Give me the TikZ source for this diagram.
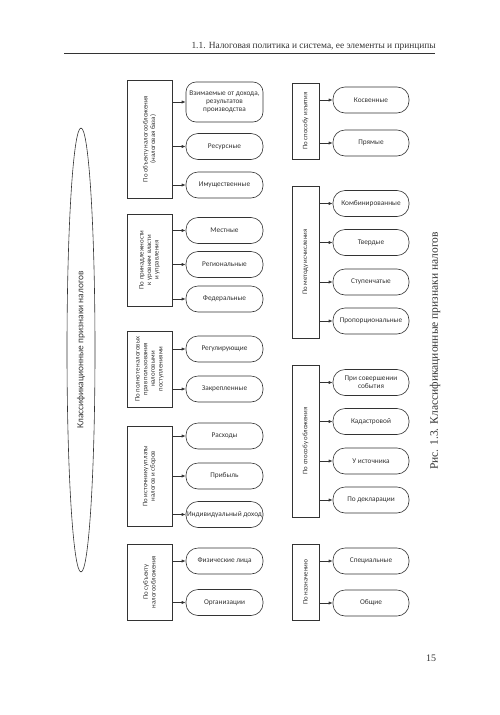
\documentclass[tikz,border=0pt]{standalone}
\usepackage{fontspec}
\setmainfont{Liberation Serif}
\newfontfamily\carl{Carlito}
\usetikzlibrary{shapes.geometric,arrows.meta}
\definecolor{ink}{HTML}{333333}
\tikzset{
  catbox/.style={draw=ink, line width=0.6pt, rectangle, inner sep=0pt},
  cattext/.style={rotate=90, align=center, font=\carl\fontsize{6.8}{7.6}\selectfont, text=ink, inner sep=0pt},
  kid/.style={draw=ink, line width=0.6pt, rectangle, rounded corners=12pt, inner sep=1pt, align=center, font=\carl\fontsize{7.3}{8.2}\selectfont, text=ink},
  kidL/.style={kid, minimum width=77pt, minimum height=26pt},
  kidR/.style={kid, minimum width=76pt, minimum height=26pt},
  arr/.style={draw=ink, line width=0.7pt, -{Latex[length=4pt,width=3.2pt]}}
}
\begin{document}
\begin{tikzpicture}[x=1pt,y=-1pt]
\useasboundingbox (0,0) rectangle (500,715);
% header
\node[anchor=east, font=\fontsize{9.4}{11}\selectfont, text=ink, inner sep=0pt] (head) at (436,46) {1.1. Налоговая политика и система, ее элементы и принципы};
\coordinate (hl) at (64,53);
\coordinate (hr) at (435,53);
\draw[ink, line width=0.8pt] (hl) -- (hr);
% root ellipse
\node[ellipse, draw=ink, line width=0.6pt, minimum width=28pt, minimum height=444pt, inner sep=0pt] (root) at (81,350) {};
\node[rotate=90, font=\carl\fontsize{9.4}{10}\selectfont, text=ink] at (root.center) {Классификационные признаки налогов};
% left column boxes
\node[catbox, minimum width=45pt, minimum height=118pt] (g1) at (149.5,139) {};
\node[cattext] at (g1.center) {По объекту налогообложения\\(налоговая база)};
\node[catbox, minimum width=45pt, minimum height=92pt] (g2) at (149.5,260) {};
\node[cattext] at (g2.center) {По принадлежности\\к уровням власти\\и управления};
\node[catbox, minimum width=45pt, minimum height=76pt] (g3) at (149.5,369) {};
\node[cattext] at (g3.center) {По полноте налоговых\\прав пользования\\налоговыми\\поступлениями};
\node[catbox, minimum width=45pt, minimum height=100pt] (g4) at (149.5,476) {};
\node[cattext] at (g4.center) {По источнику уплаты\\налогов и сборов};
\node[catbox, minimum width=45pt, minimum height=76pt] (g5) at (149.5,582) {};
\node[cattext] at (g5.center) {По субъекту\\налогообложения};
% left children
\node[kid, minimum width=77pt, minimum height=40pt, rounded corners=10pt] (c11) at (224.5,102) {Взимаемые от дохода,\\результатов\\производства};
\node[kidL] (c12) at (224.5,146.5) {Ресурсные};
\node[kidL] (c13) at (224.5,185) {Имущественные};
\node[kidL] (c21) at (224.5,230.5) {Местные};
\node[kidL] (c22) at (224.5,264.5) {Региональные};
\node[kidL] (c23) at (224.5,299) {Федеральные};
\node[kidL] (c31) at (224.5,349) {Регулирующие};
\node[kidL] (c32) at (224.5,389) {Закрепленные};
\node[kidL] (c41) at (224.5,436) {Расходы};
\node[kidL] (c42) at (224.5,476) {Прибыль};
\node[kidL] (c43) at (224.5,514.5) {Индивидуальный доход};
\node[kidL] (c51) at (224.5,561) {Физические лица};
\node[kidL] (c52) at (224.5,602.5) {Организации};
\foreach \g/\c in {g1/c11,g1/c12,g1/c13,g2/c21,g2/c22,g2/c23,g3/c31,g3/c32,g4/c41,g4/c42,g4/c43,g5/c51,g5/c52}
  \draw[arr] (\g.east |- \c.west) -- (\c.west);
% right column boxes
\node[catbox, minimum width=27pt, minimum height=76pt] (gA) at (305.5,121) {};
\node[cattext] at (gA.center) {По способу изъятия};
\node[catbox, minimum width=27pt, minimum height=152pt] (gB) at (305.5,262) {};
\node[cattext] at (gB.center) {По методу исчисления};
\node[catbox, minimum width=27pt, minimum height=152pt] (gC) at (305.5,441) {};
\node[cattext] at (gC.center) {По способу обложения};
\node[catbox, minimum width=27pt, minimum height=76pt] (gD) at (305.5,582) {};
\node[cattext] at (gD.center) {По назначению};
% right children
\node[kidR] (cA1) at (371,100) {Косвенные};
\node[kidR] (cA2) at (371,143) {Прямые};
\node[kidR] (cB1) at (371,203.5) {Комбинированные};
\node[kidR] (cB2) at (371,242.5) {Твердые};
\node[kidR] (cB3) at (371,282) {Ступенчатые};
\node[kidR] (cB4) at (371,321) {Пропорциональные};
\node[kidR] (cC1) at (371,382.5) {При совершении\\события};
\node[kidR] (cC2) at (371,421.5) {Кадастровой};
\node[kidR] (cC3) at (371,461) {У источника};
\node[kidR] (cC4) at (371,500) {По декларации};
\node[kidR] (cD1) at (371,561) {Специальные};
\node[kidR] (cD2) at (371,603) {Общие};
\foreach \g/\c in {gA/cA1,gA/cA2,gB/cB1,gB/cB2,gB/cB3,gB/cB4,gC/cC1,gC/cC2,gC/cC3,gC/cC4,gD/cD1,gD/cD2}
  \draw[arr] (\g.east |- \c.west) -- (\c.west);
% caption and page number
\node[rotate=90, font=\fontsize{11.5}{13}\selectfont, text=ink, inner sep=0pt] (cap) at (435,351) {Рис. 1.3. Классификационные признаки налогов};
\node[font=\fontsize{10}{12}\selectfont, text=ink, inner sep=0pt] (pg) at (431,658) {15};
\end{tikzpicture}
\end{document}
